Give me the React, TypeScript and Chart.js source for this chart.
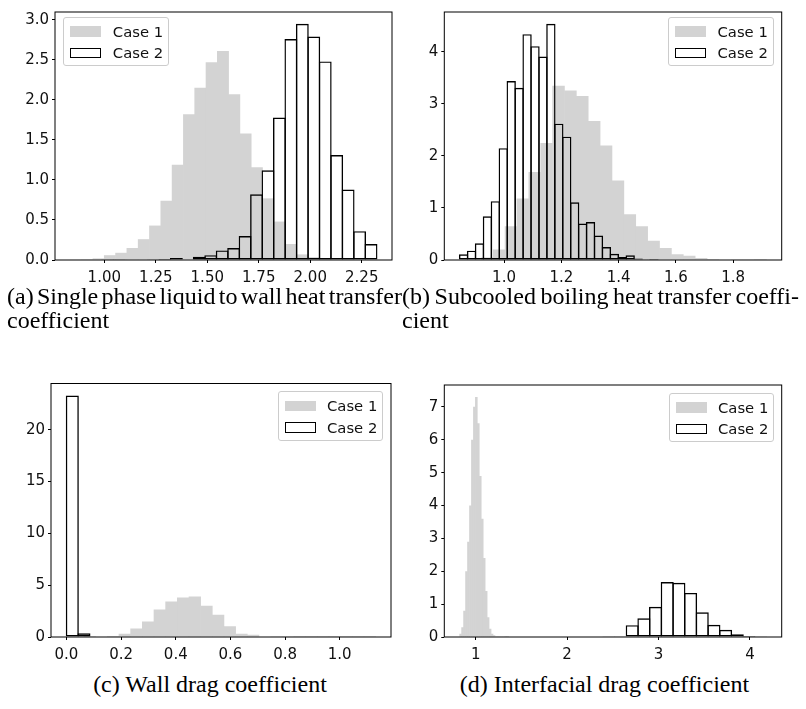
import React, { useEffect, useRef } from 'react';
import { Chart, registerables } from 'chart.js';

Chart.register(...registerables);

// ---------- (a) Single phase liquid to wall heat transfer coefficient ----------
const A_XLIM = [0.7606, 2.397];
const A_YMAX = 3.0975;
const A_XTICKS = [1.0, 1.25, 1.5, 1.75, 2.0, 2.25];
const A_YTICKS = [0, 0.5, 1.0, 1.5, 2.0, 2.5, 3.0];
const A_CASE1_START = 0.835;
const A_CASE1_WIDTH = 0.0549;
const A_CASE1 = [0.004, 0.01, 0.02, 0.06, 0.09, 0.15, 0.26, 0.43, 0.74, 1.19, 1.82, 2.15, 2.47, 2.61, 2.07, 1.58, 1.16, 0.77, 0.48, 0.2, 0.07, 0.035, 0.012, 0.005, 0.002];
const A_CASE2_START = 0.933;
const A_CASE2_WIDTH = 0.0556;
const A_CASE2 = [0.006, 0.004, 0.004, 0.005, 0.006, 0.008, 0.012, 0.025, 0.006, 0.04, 0.06, 0.12, 0.15, 0.3, 0.82, 1.12, 1.78, 2.76, 2.95, 2.79, 2.48, 1.31, 0.88, 0.36, 0.2];

// ---------- (b) Subcooled boiling heat transfer coefficient ----------
const B_XLIM = [0.7914, 1.9696];
const B_YMAX = 4.767;
const B_XTICKS = [1.0, 1.2, 1.4, 1.6, 1.8];
const B_YTICKS = [0, 1, 2, 3, 4];
const B_CASE1_START = 0.879;
const B_CASE1_WIDTH = 0.0415;
const B_CASE1 = [0.01, 0.05, 0.2, 0.65, 1.18, 1.69, 2.25, 3.35, 3.26, 3.15, 2.67, 2.2, 1.53, 0.88, 0.65, 0.37, 0.23, 0.11, 0.08, 0.04, 0.02, 0.01, 0.005, 0.003, 0.002];
const B_CASE2_START = 0.845;
const B_CASE2_WIDTH = 0.0277;
const B_CASE2 = [0.11, 0.18, 0.32, 0.84, 1.13, 2.15, 3.44, 3.31, 4.34, 4.11, 3.91, 4.54, 2.62, 2.37, 1.11, 0.7, 0.73, 0.47, 0.25, 0.12, 0.06, 0.09, 0.03, 0.015, 0.02];

// ---------- (c) Wall drag coefficient ----------
const C_XLIM = [-0.0566, 1.1876];
const C_YMAX = 24.465;
const C_XTICKS = [0.0, 0.2, 0.4, 0.6, 0.8, 1.0];
const C_YTICKS = [0, 5, 10, 15, 20];
const C_CASE1_START = 0.064;
const C_CASE1_WIDTH = 0.0427;
const C_CASE1 = [0.01, 0.05, 0.1, 0.32, 0.83, 1.5, 2.65, 3.43, 3.81, 3.91, 3.01, 2.15, 1.03, 0.32, 0.22, 0.06, 0.03, 0.02, 0.01, 0.01, 0.005, 0.01, 0.005, 0.002, 0.002];
const C_CASE2_START = 0.0;
const C_CASE2_WIDTH = 0.0427;
const C_CASE2 = [23.3, 0.35, 0, 0, 0, 0, 0, 0, 0, 0, 0, 0, 0, 0, 0, 0, 0, 0, 0, 0, 0, 0, 0, 0, 0];

// ---------- (d) Interfacial drag coefficient ----------
const D_XLIM = [0.6562, 4.3478];
const D_YMAX = 7.665;
const D_XTICKS = [1, 2, 3, 4];
const D_YTICKS = [0, 1, 2, 3, 4, 5, 6, 7];
const D_CASE1_START = 0.824;
const D_CASE1_WIDTH = 0.0215;
const D_CASE1 = [0.1, 0.3, 0.8, 2.0, 2.9, 4.0, 6.0, 7.0, 7.3, 6.5, 4.9, 3.6, 2.4, 1.4, 0.6, 0.25, 0.1, 0.05, 0.02, 0.01, 0.01, 0.005, 0.005, 0.003, 0.002];
const D_CASE2_START = 2.393;
const D_CASE2_WIDTH = 0.1277;
const D_CASE2 = [0.005, 0.02, 0.36, 0.57, 0.92, 1.67, 1.65, 1.34, 0.75, 0.37, 0.22, 0.08, 0.03, 0.01];

const SERIES_LABELS = ['Case 1', 'Case 2'];

const GRAY = '#d3d3d3';
const EDGE = 1.4;
const TICK_FONT = { family: '"DejaVu Sans"', size: 15 };
const TEXT_COLOR = '#111';

type PanelProps = {
  left: number; top: number; w: number; h: number;
  yAxisW: number; xAxisH: number; padTop: number; padRight: number;
  xlim: number[]; ymax: number;
  c1Start: number; c1Width: number; c1: number[];
  c2Start: number; c2Width: number; c2: number[];
  xticks: number[]; yticks: number[]; xdec: number; ydec: number;
};

function toPoints(start: number, width: number, vals: number[]) {
  return vals.map((v, i) => ({ x: start + (i + 0.5) * width, y: v }));
}

const framePlugin = {
  id: 'frame',
  afterDraw(chart: any) {
    const { ctx, chartArea: a } = chart;
    ctx.save();
    ctx.strokeStyle = '#000';
    ctx.lineWidth = 1;
    ctx.strokeRect(a.left, a.top, a.right - a.left, a.bottom - a.top);
    ctx.restore();
  },
};

function Panel(p: PanelProps) {
  const ref = useRef<HTMLCanvasElement>(null);
  useEffect(() => {
    const canvas = ref.current!;
    const plotW = p.w - p.yAxisW - p.padRight;
    const pxPerUnit = plotW / (p.xlim[1] - p.xlim[0]);
    const c1Pct = 1 + 0.6 / (p.c1Width * pxPerUnit);
    const c2Pct = 1 + EDGE / (p.c2Width * pxPerUnit);
    const gridCommon = {
      display: true,
      drawOnChartArea: false,
      drawTicks: true,
      tickLength: 3,
      tickWidth: 1,
      tickColor: '#000',
      offset: false,
    };
    const chart = new Chart(canvas, {
      type: 'bar',
      data: {
        datasets: [
          {
            label: SERIES_LABELS[0],
            data: toPoints(p.c1Start, p.c1Width, p.c1),
            xAxisID: 'x',
            yAxisID: 'y',
            backgroundColor: GRAY,
            borderWidth: 0,
            grouped: false,
            barPercentage: c1Pct,
            categoryPercentage: 1,
            order: 1,
          } as any,
          {
            label: SERIES_LABELS[1],
            data: toPoints(p.c2Start, p.c2Width, p.c2),
            xAxisID: 'x2',
            yAxisID: 'y',
            backgroundColor: 'rgba(0,0,0,0)',
            borderColor: '#000',
            borderWidth: EDGE,
            borderSkipped: false,
            grouped: false,
            barPercentage: c2Pct,
            categoryPercentage: 1,
            order: 0,
          } as any,
        ],
      },
      options: {
        responsive: false,
        maintainAspectRatio: false,
        animation: false,
        layout: { padding: { left: 0, top: p.padTop, right: p.padRight, bottom: 0 } },
        plugins: { legend: { display: false }, tooltip: { enabled: false } },
        scales: {
          x: {
            type: 'linear',
            position: 'bottom',
            min: p.xlim[0],
            max: p.xlim[1],
            offset: false,
            afterFit: (s: any) => { s.height = p.xAxisH; },
            afterBuildTicks: (s: any) => { s.ticks = p.xticks.map((v) => ({ value: v })); },
            grid: gridCommon,
            border: { display: false },
            ticks: {
              font: TICK_FONT,
              color: TEXT_COLOR,
              padding: 6,
              autoSkip: false,
              maxRotation: 0,
              callback: (v: any) => Number(v).toFixed(p.xdec),
            },
          },
          x2: {
            type: 'linear',
            position: 'bottom',
            display: false,
            min: p.xlim[0],
            max: p.xlim[1],
            offset: false,
            afterBuildTicks: (s: any) => { s.ticks = []; },
          },
          y: {
            type: 'linear',
            min: 0,
            max: p.ymax,
            afterFit: (s: any) => { s.width = p.yAxisW; },
            afterBuildTicks: (s: any) => { s.ticks = p.yticks.map((v) => ({ value: v })); },
            grid: gridCommon,
            border: { display: false },
            ticks: {
              font: TICK_FONT,
              color: TEXT_COLOR,
              padding: 3,
              autoSkip: false,
              callback: (v: any) => Number(v).toFixed(p.ydec),
            },
          },
        } as any,
      },
      plugins: [framePlugin],
    });
    return () => chart.destroy();
  }, []);
  return (
    <canvas
      ref={ref}
      width={p.w}
      height={p.h}
      style={{ position: 'absolute', left: p.left, top: p.top, width: p.w, height: p.h }}
    />
  );
}

function Legend({ left, top }: { left: number; top: number }) {
  const row = (label: string, center: number, filled: boolean) => (
    <React.Fragment key={label}>
      <div
        style={{
          position: 'absolute',
          left: 6,
          top: center - 5.25,
          width: 31,
          height: 10.5,
          boxSizing: 'border-box',
          background: filled ? GRAY : '#fff',
          border: filled ? 'none' : `${EDGE}px solid #000`,
        }}
      />
      <div
        style={{
          position: 'absolute',
          left: 48.5,
          top: center - 9,
          height: 18,
          lineHeight: '18px',
          fontFamily: '"DejaVu Sans"',
          fontSize: 14.8,
          color: TEXT_COLOR,
          whiteSpace: 'nowrap',
        }}
      >
        {label}
      </div>
    </React.Fragment>
  );
  return (
    <div
      style={{
        position: 'absolute',
        left,
        top,
        width: 105.5,
        height: 49.5,
        boxSizing: 'border-box',
        border: '1px solid #cccccc',
        borderRadius: 3,
        background: 'rgba(255,255,255,0.8)',
      }}
    >
      {row(SERIES_LABELS[0], 14, true)}
      {row(SERIES_LABELS[1], 35.5, false)}
    </div>
  );
}

const capStyle: React.CSSProperties = {
  position: 'absolute',
  fontFamily: '"Liberation Serif", "Times New Roman", serif',
  fontSize: 24,
  lineHeight: '24px',
  color: '#000',
  whiteSpace: 'nowrap',
};

export default function App() {
  return (
    <div style={{ position: 'absolute', left: 0, top: 0, width: 806, height: 709, background: '#fff', overflow: 'hidden' }}>
      <Panel left={0} top={0} w={400} h={290} yAxisW={55} xAxisH={30} padTop={10} padRight={8}
        xlim={A_XLIM} ymax={A_YMAX}
        c1Start={A_CASE1_START} c1Width={A_CASE1_WIDTH} c1={A_CASE1}
        c2Start={A_CASE2_START} c2Width={A_CASE2_WIDTH} c2={A_CASE2}
        xticks={A_XTICKS} yticks={A_YTICKS} xdec={2} ydec={1} />
      <Panel left={400} top={0} w={406} h={290} yAxisW={44.3} xAxisH={30} padTop={10} padRight={24.3}
        xlim={B_XLIM} ymax={B_YMAX}
        c1Start={B_CASE1_START} c1Width={B_CASE1_WIDTH} c1={B_CASE1}
        c2Start={B_CASE2_START} c2Width={B_CASE2_WIDTH} c2={B_CASE2}
        xticks={B_XTICKS} yticks={B_YTICKS} xdec={1} ydec={0} />
      <Panel left={0} top={370} w={400} h={297} yAxisW={51} xAxisH={30} padTop={13.5} padRight={9}
        xlim={C_XLIM} ymax={C_YMAX}
        c1Start={C_CASE1_START} c1Width={C_CASE1_WIDTH} c1={C_CASE1}
        c2Start={C_CASE2_START} c2Width={C_CASE2_WIDTH} c2={C_CASE2}
        xticks={C_XTICKS} yticks={C_YTICKS} xdec={1} ydec={0} />
      <Panel left={400} top={370} w={406} h={297} yAxisW={44.3} xAxisH={30} padTop={15} padRight={24.3}
        xlim={D_XLIM} ymax={D_YMAX}
        c1Start={D_CASE1_START} c1Width={D_CASE1_WIDTH} c1={D_CASE1}
        c2Start={D_CASE2_START} c2Width={D_CASE2_WIDTH} c2={D_CASE2}
        xticks={D_XTICKS} yticks={D_YTICKS} xdec={0} ydec={0} />

      <Legend left={63.3} top={16.5} />
      <Legend left={668} top={16.5} />
      <Legend left={277.5} top={391} />
      <Legend left={668.5} top={392.5} />

      <div style={{ ...capStyle, left: 7, top: 284, width: 395, wordSpacing: -3, textAlign: 'justify', textAlignLast: 'justify' }}>
        (a) Single phase liquid to wall heat transfer
      </div>
      <div style={{ ...capStyle, left: 7, top: 308 }}>coefficient</div>
      <div style={{ ...capStyle, left: 402, top: 284, width: 397, wordSpacing: -3, textAlign: 'justify', textAlignLast: 'justify' }}>
        (b) Subcooled boiling heat transfer coeffi-
      </div>
      <div style={{ ...capStyle, left: 402, top: 308 }}>cient</div>
      <div style={{ ...capStyle, left: 10, top: 672, width: 400, textAlign: 'center' }}>(c) Wall drag coefficient</div>
      <div style={{ ...capStyle, left: 404.5, top: 672, width: 400, textAlign: 'center' }}>(d) Interfacial drag coefficient</div>
    </div>
  );
}
